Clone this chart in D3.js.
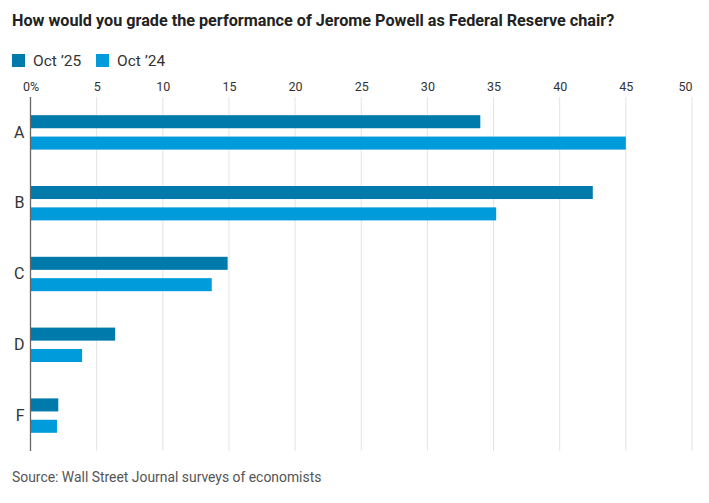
<!DOCTYPE html>
<html lang="en">
<head>
<meta charset="UTF-8">
<title>Powell grade</title>
<style>
body { margin:0; background:#fff; }
svg { font-family: Roboto, "Noto Sans", sans-serif; }
</style>
</head>
<body>
<div class="chart"></div>
<script src="https://d3js.org/d3.v7.min.js"></script>
<script>
var grades = ['A', 'B', 'C', 'D', 'F'];
var seriesNames = ['Oct \u201925', 'Oct \u201924'];
var oct25 = [34, 42.5, 14.9, 6.4, 2.1];
var oct24 = [45, 35.2, 13.7, 3.9, 2.0];
var xTicks = [0, 5, 10, 15, 20, 25, 30, 35, 40, 45, 50];
var colors = ['#0079ab', '#009bdb'];

var W = 709, H = 503;
var m = { left: 30.5, right: 692, top: 97, bottom: 451 };

var svg = d3.select('.chart').append('svg')
	.attr('width', W).attr('height', H);

svg.append('text')
	.attr('x', 12).attr('y', 26)
	.style('font-weight', 'bold').style('font-size', '16.2px').style('fill', '#222')
	.text('How would you grade the performance of Jerome Powell as Federal Reserve chair?');

// legend
var leg = svg.append('g');
var legX = [12, 96];
seriesNames.forEach(function(n, i) {
	leg.append('rect').attr('x', legX[i]).attr('y', 54).attr('width', 13).attr('height', 13).style('fill', colors[i]);
	leg.append('text').attr('x', legX[i] + 21).attr('y', 66)
		.style('font-size', '15.5px').style('fill', '#333').text(n);
});

var x = d3.scaleLinear().domain([0, 50]).range([m.left, m.right]);
var y = d3.scaleBand().domain(grades).range([m.top, m.bottom]).paddingInner(0.514).paddingOuter(0.257);
var ySub = d3.scaleBand().domain([0, 1]).range([0, y.bandwidth()]).paddingInner(0.39);

// grid
svg.append('g').selectAll('line').data(xTicks.slice(1)).join('line')
	.attr('x1', d => x(d)).attr('x2', d => x(d))
	.attr('y1', m.top).attr('y2', m.bottom)
	.style('stroke', '#e3e3e3').style('stroke-width', 1);

var xAxis = d3.axisTop(x).tickValues(xTicks).tickSize(0).tickPadding(0)
	.tickFormat(d => d === 0 ? '0%' : d);
svg.append('g').attr('transform', `translate(0,${m.top - 6})`).call(xAxis)
	.call(g => g.select('.domain').remove())
	.call(g => g.selectAll('text').style('font-size', '12.5px').style('fill', '#333').style('font-family', 'Roboto, sans-serif'))
	.call(g => g.selectAll('.tick:last-of-type text').attr('text-anchor', 'end'));

var rows = grades.map((g, i) => ({ g: g, vals: [oct25[i], oct24[i]] }));
svg.append('g').selectAll('g').data(rows).join('g')
	.attr('transform', d => `translate(0,${y(d.g)})`)
	.selectAll('rect').data(d => d.vals).join('rect')
	.attr('x', x(0))
	.attr('y', (d, i) => ySub(i))
	.attr('width', d => x(d) - x(0))
	.attr('height', ySub.bandwidth())
	.style('fill', (d, i) => colors[i]);

var yAxis = d3.axisLeft(y).tickSize(0).tickPadding(6);
svg.append('g').attr('transform', `translate(${m.left},0)`).call(yAxis)
	.call(g => g.select('.domain').remove())
	.call(g => g.selectAll('text').style('font-size', '16px').style('fill', '#333').style('font-family', 'Roboto, sans-serif'));

svg.append('line').attr('x1', m.left).attr('x2', m.left).attr('y1', m.top).attr('y2', m.bottom)
	.style('stroke', '#666').style('stroke-width', 1.3);

svg.append('text').attr('x', 12).attr('y', 482)
	.style('font-size', '13.9px').style('fill', '#555')
	.text('Source: Wall Street Journal surveys of economists');
</script>
</body>
</html>
